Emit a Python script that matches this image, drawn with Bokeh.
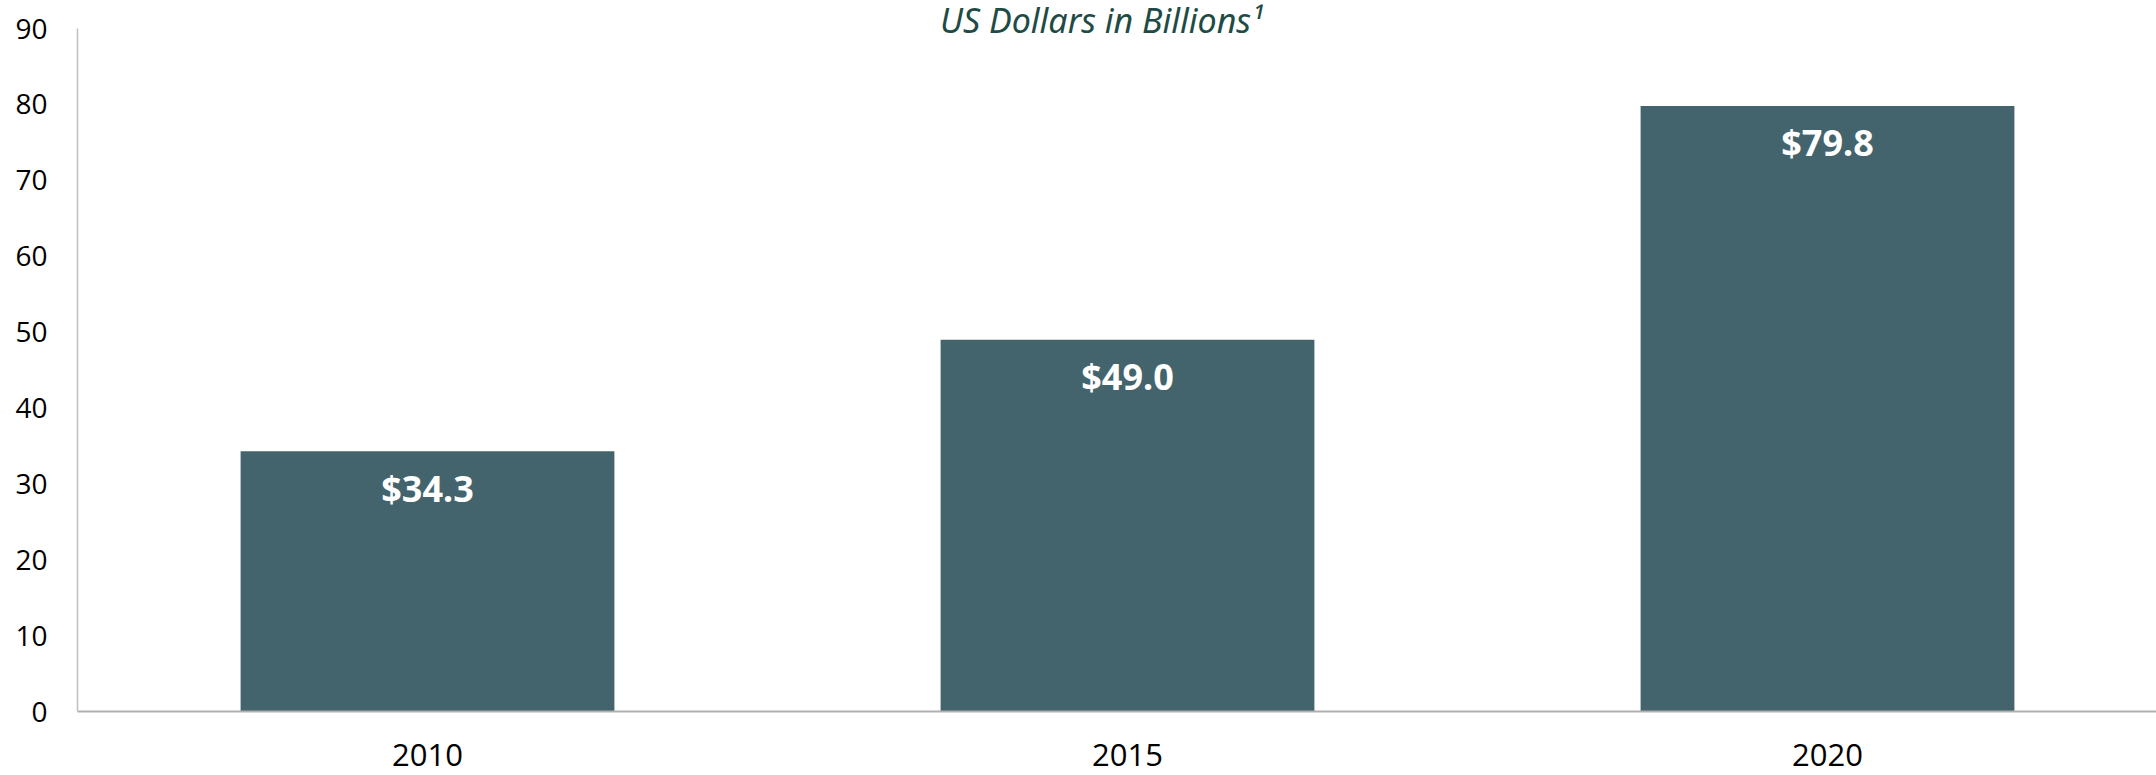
from bokeh.plotting import figure
from bokeh.models import Range1d, FixedTicker, ColumnDataSource, LabelSet
from bokeh.core.properties import value
from bokeh.embed import file_html
from bokeh.resources import INLINE

categories = ["2010", "2015", "2020"]
values = [34.3, 49.0, 79.8]
value_labels = ["$34.3", "$49.0", "$79.8"]
y_ticks = [0, 10, 20, 30, 40, 50, 60, 70, 80, 90]
title_text = "US Dollars in Billions\u00b9"

BAR_COLOR = "#43646d"
FONT = "Open Sans"
FONT_BOLD = "Noto Sans"
FONT_IT = "Noto Sans"

xs = list(range(len(categories)))
src = ColumnDataSource(dict(x=xs, top=values, label=value_labels))

# frame spans the canvas top so the title can sit above the axis top
px_per_unit = (711 - 28) / (y_ticks[-1] - y_ticks[0])
y_end = 711 / px_per_unit

p = figure(width=2156, height=775, output_backend="svg", toolbar_location=None,
           x_range=Range1d(-0.5, -0.5 + 2079 / 700), y_range=Range1d(0, y_end),
           min_border_left=77, min_border_right=0, min_border_top=0, min_border_bottom=64,
           outline_line_color=None, background_fill_color="white", border_fill_color="white")

p.vbar(x="x", top="top", bottom=0, width=0.534, source=src, fill_color=BAR_COLOR, line_color=None)

labels = LabelSet(x="x", y="top", text="label", source=src, y_offset=-37,
                  text_align="center", text_baseline="middle", text_color="white",
                  text_font=value(FONT_BOLD), text_font_style="bold", text_font_size="36px")
p.add_layout(labels)

p.text(x=[xs[1]], y=[y_ticks[-1]], text=[title_text], x_offset=-26, y_offset=-9,
       text_align="center", text_baseline="alphabetic", text_color="#1e4b45",
       text_font=value(FONT_IT), text_font_style="italic", text_font_size="34px")

p.xgrid.visible = False
p.ygrid.visible = False

p.xaxis.ticker = FixedTicker(ticks=xs)
p.xaxis.major_label_overrides = {i: c for i, c in zip(xs, categories)}
p.xaxis.major_tick_line_color = None
p.xaxis.minor_tick_line_color = None
p.xaxis.major_tick_out = 0
p.xaxis.major_tick_in = 0
p.xaxis.axis_line_color = "#b0b0b0"
p.xaxis.axis_line_width = 2
p.xaxis.major_label_text_font = FONT
p.xaxis.major_label_text_font_size = "31px"
p.xaxis.major_label_text_line_height = 1.0
p.xaxis.major_label_text_color = "black"
p.xaxis.major_label_standoff = 32

p.yaxis.ticker = FixedTicker(ticks=y_ticks)
p.yaxis.bounds = (y_ticks[0], y_ticks[-1])
p.yaxis.major_tick_line_color = None
p.yaxis.minor_tick_line_color = None
p.yaxis.major_tick_out = 0
p.yaxis.major_tick_in = 0
p.yaxis.axis_line_color = "#bfbfbf"
p.yaxis.axis_line_width = 1.5
p.yaxis.major_label_text_font = FONT
p.yaxis.major_label_text_font_size = "28px"
p.yaxis.major_label_text_color = "black"
p.yaxis.major_label_standoff = 30

open("out.html", "w").write(file_html(p, INLINE))
